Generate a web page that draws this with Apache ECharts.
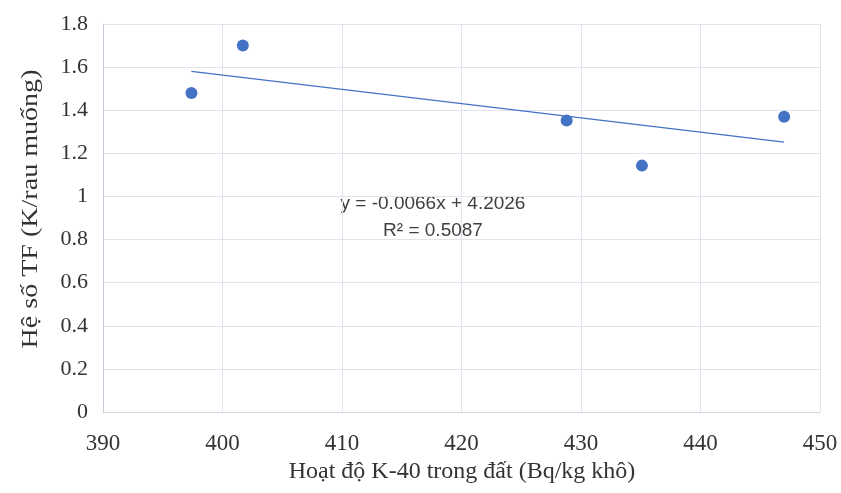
<!DOCTYPE html>
<html>
<head>
<meta charset="utf-8">
<script src="https://cdn.jsdelivr.net/npm/echarts@6/dist/echarts.min.js"></script>
<style>
  html, body { margin: 0; padding: 0; background: #fff; }
  #chart { width: 841px; height: 493px; }
</style>
</head>
<body>
<div id="chart"></div>
<script>
// Hoạt độ K-40 trong đất vs hệ số TF
var k40 = [397.4, 401.7, 428.8, 435.1, 447.0];
var tf = [1.48, 1.70, 1.352, 1.143, 1.37];

// đường xu hướng tuyến tính (theo phương trình trên hình)
var slope = -0.0066;
var intercept = 4.2026;
var eqText = 'y = -0.0066x + 4.2026';
var r2Text = 'R² = 0.5087';

var xName = 'Hoạt độ K-40 trong đất (Bq/kg khô)';
var yName = 'Hệ số TF (K/rau muống)';

var points = k40.map(function (x, i) { return [x, tf[i]]; });
var xMin = Math.min.apply(null, k40);
var xMax = Math.max.apply(null, k40);
var trend = [[xMin, slope * xMin + intercept], [xMax, slope * xMax + intercept]];

var myChart = echarts.init(document.getElementById('chart'));
var option = {
	animation: false,
	grid: { left: 103, right: 21, top: 24, bottom: 81 },
	xAxis: {
		type: 'value',
		min: 390,
		max: 450,
		interval: 10,
		axisLine: { show: true, lineStyle: { color: '#d0d4de' } },
		axisTick: { show: false },
		axisLabel: { fontFamily: 'Liberation Serif', fontSize: 23, color: '#333', margin: 20 },
		splitLine: { show: true, lineStyle: { color: '#e1e4ec' } }
	},
	yAxis: {
		type: 'value',
		min: 0,
		max: 1.8,
		interval: 0.2,
		axisLine: { show: true, lineStyle: { color: '#c6cddd' } },
		axisTick: { show: false },
		axisLabel: {
			fontFamily: 'Liberation Serif', fontSize: 22, color: '#333', margin: 15,
			formatter: function (v) { return String(Math.round(v * 10) / 10); }
		},
		splitLine: { show: true, lineStyle: { color: '#e1e4ec' } }
	},
	series: [
		{
			type: 'line',
			data: trend,
			symbol: 'none',
			lineStyle: { color: '#4472c4', width: 1.3 },
			z: 1
		},
		{
			type: 'scatter',
			data: points,
			symbolSize: 12,
			itemStyle: { color: '#4472c4', opacity: 1 },
			z: 3
		}
	],
	graphic: [
		{
			type: 'text',
			x: 433,
			y: 204,
			style: {
				text: eqText,
				fontFamily: 'Liberation Sans',
				fontSize: 19,
				fill: '#404040',
				align: 'center',
				verticalAlign: 'middle'
			}
		},
		{
			type: 'text',
			x: 433,
			y: 231,
			style: {
				text: r2Text,
				fontFamily: 'Liberation Sans',
				fontSize: 19,
				fill: '#404040',
				align: 'center',
				verticalAlign: 'middle'
			}
		},
		{
			type: 'text',
			x: 462,
			y: 472,
			style: {
				text: xName,
				fontFamily: 'Liberation Serif',
				fontSize: 24,
				fill: '#333',
				align: 'center',
				verticalAlign: 'middle'
			}
		},
		{
			type: 'text',
			x: 31,
			y: 209,
			rotation: Math.PI / 2,
			scaleX: 1.22,
			style: {
				text: yName,
				fontFamily: 'Liberation Serif',
				fontSize: 23,
				fill: '#333',
				align: 'center',
				verticalAlign: 'middle'
			}
		}
	]
};
myChart.setOption(option);
</script>
</body>
</html>
